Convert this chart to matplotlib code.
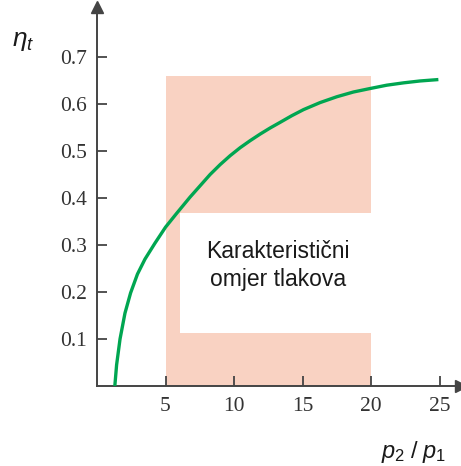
import matplotlib
matplotlib.use("Agg")
import matplotlib.pyplot as plt

plt.rcParams.update({
    "mathtext.fontset": "custom",
    "mathtext.it": "Liberation Sans:italic",
    "mathtext.rm": "Liberation Sans",
})

# efficiency curve
ratio = [1.3, 1.43, 1.68, 2.04, 2.45, 2.95, 3.5, 4.23, 5.0, 5.8, 6.79, 7.52,
         8.25, 8.98, 9.71, 10.44, 11.17, 11.9, 12.63, 13.36, 14.2, 15.06,
         16.27, 17.5, 18.7, 19.93, 21.13, 22.36, 23.56, 24.9]
eta = [0.0, 0.045, 0.10, 0.155, 0.198, 0.238, 0.270, 0.304, 0.338, 0.367,
       0.402, 0.426, 0.450, 0.471, 0.490, 0.507, 0.522, 0.536, 0.549, 0.561,
       0.575, 0.588, 0.603, 0.6155, 0.6255, 0.633, 0.640, 0.645, 0.649, 0.652]

# shaded "characteristic ratio" band
band_x = [5, 20]
band_top = 0.659
cut_left = 6.06
cut_low, cut_high = 0.113, 0.368

xticks = [5, 10, 15, 20, 25]
yticks = [0.1, 0.2, 0.3, 0.4, 0.5, 0.6, 0.7]

AX_C = "#444444"
SHADE = "#F9D2C2"
GREEN = "#00A651"

fig = plt.figure(figsize=(4.61, 4.66), dpi=100)
ax = fig.add_axes([97 / 461, 80 / 466, 364 / 461, 379 / 466])
ax.set_xlim(0, 364 / 13.71)
ax.set_ylim(0, 379 / 470)

ax.fill_between(band_x, cut_high, band_top, color=SHADE, lw=0)
ax.fill_between(band_x, 0, cut_low, color=SHADE, lw=0)
ax.fill_between([band_x[0], cut_left], cut_low, cut_high, color=SHADE, lw=0)

ax.plot(ratio, eta, color=GREEN, lw=2.4, zorder=3,
        solid_capstyle="butt", solid_joinstyle="round")

ax.text(13.2, 0.257, "Karakteristični\nomjer tlakova", ha="center", va="center",
        fontsize=16.5, family="Liberation Sans", color="#1a1a1a", linespacing=1.3)

for s in ("top", "right"):
    ax.spines[s].set_visible(False)
for s in ("left", "bottom"):
    ax.spines[s].set_color(AX_C)
    ax.spines[s].set_linewidth(1.4)

ax.plot(1, 0, ">", color=AX_C, ms=8, transform=ax.transAxes, clip_on=False)
ax.plot(0, 1, "^", color=AX_C, ms=8, transform=ax.transAxes, clip_on=False)

ax.set_xticks(xticks)
ax.set_yticks(yticks)
ax.set_xticklabels([str(v) for v in xticks])
ax.set_yticklabels([f"{v:.1f}" for v in yticks])
ax.tick_params(direction="in", length=7, width=1.3, color=AX_C,
               labelsize=15.5, labelcolor="#333333")
ax.tick_params(axis="x", pad=8)
ax.tick_params(axis="y", pad=7)
for lab in ax.get_xticklabels() + ax.get_yticklabels():
    lab.set_family("Liberation Serif")

fig.text(23 / 461, 1 - 40 / 466, r"$\eta_t$", fontsize=19, ha="center", va="center",
         color="#1a1a1a")
fig.text(413 / 461, 1 - 452 / 466, r"$p_2\;/\;p_1$", fontsize=17, ha="center",
         va="center", color="#1a1a1a")

fig.savefig("out.png", dpi=100)
